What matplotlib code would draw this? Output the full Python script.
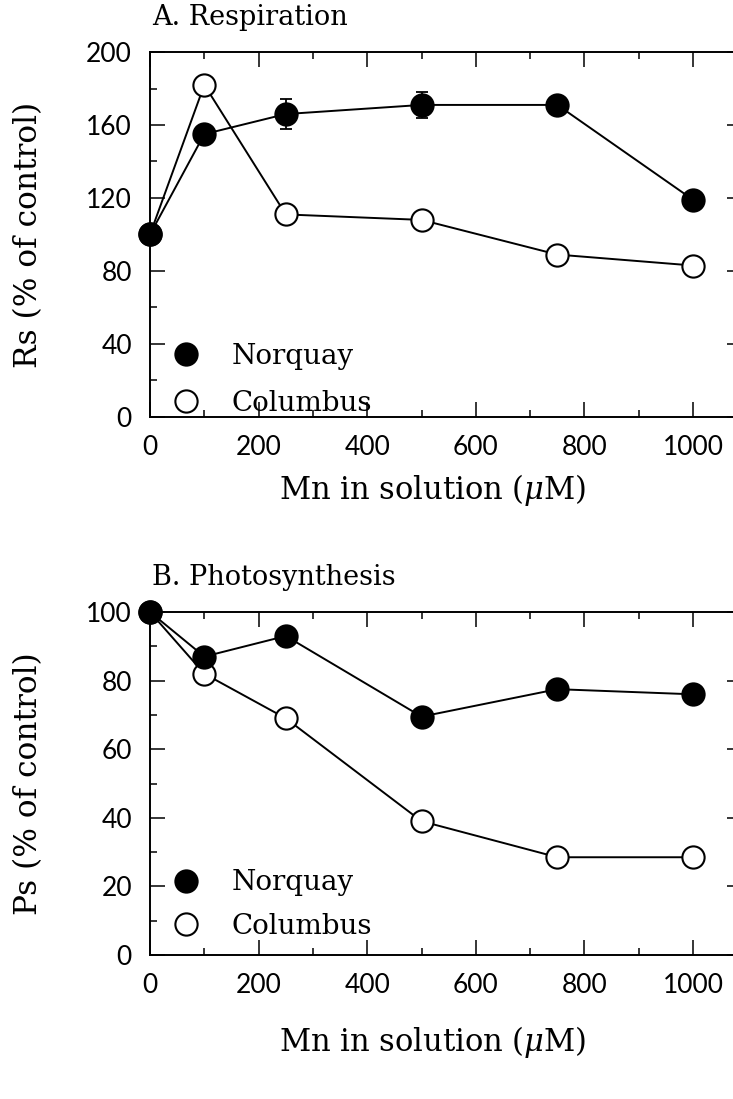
import matplotlib
matplotlib.use("Agg")
import matplotlib.pyplot as plt
from matplotlib.ticker import MultipleLocator
from matplotlib.lines import Line2D

# ---- data ----
mn_conc = [0, 100, 250, 500, 750, 1000]

resp_norquay = [100, 155, 166, 171, 171, 119]
resp_norquay_err = [0, 0, 8, 7, 0, 0]
resp_columbus = [100, 182, 111, 108, 89, 83]

photo_norquay = [100, 87, 93, 69.5, 77.5, 76]
photo_columbus = [100, 82, 69, 39, 28.5, 28.5]

series_names = ["Norquay", "Columbus"]
xticks = [0, 200, 400, 600, 800, 1000]

TEXT_FONT = "DejaVu Serif"
TICK_FONT = "Lato"
plt.rcParams["mathtext.fontset"] = "dejavuserif"

W, H = 733, 1099
XMAX = 1090
fig = plt.figure(figsize=(W / 100, H / 100), dpi=100)


def px_axes(left, top, right, bottom):
    return fig.add_axes([left / W, 1 - bottom / H, (right - left) / W, (bottom - top) / H])


def style_axes(ax, ymax, ymajor, yminor):
    ax.set_xlim(0, XMAX)
    ax.set_ylim(0, ymax)
    ax.xaxis.set_major_locator(MultipleLocator(200))
    ax.xaxis.set_minor_locator(MultipleLocator(100))
    ax.yaxis.set_major_locator(MultipleLocator(ymajor))
    ax.yaxis.set_minor_locator(MultipleLocator(yminor))
    ax.tick_params(which="both", direction="in", top=True, right=True, width=1.1)
    ax.tick_params(which="major", length=10.5)
    ax.tick_params(which="minor", length=5)
    ax.tick_params(axis="x", which="major", pad=13)
    ax.tick_params(axis="y", which="major", pad=13)
    ax.set_xticks(xticks)
    for lab in ax.get_xticklabels() + ax.get_yticklabels():
        lab.set_fontfamily(TICK_FONT)
        lab.set_fontweight("normal")
        lab.set_fontsize(19)
    for sp in ax.spines.values():
        sp.set_linewidth(1.4)


def draw(ax, y1, y2, err=None):
    ax.plot(mn_conc, y2, color="black", lw=1.4, marker="o", ms=16,
            mfc="white", mec="black", mew=1.5, clip_on=False, zorder=3)
    if err is not None:
        ax.errorbar(mn_conc, y1, yerr=err, fmt="none", ecolor="black",
                    elinewidth=1.3, capsize=4, capthick=1.3, clip_on=False, zorder=4)
    ax.plot(mn_conc, y1, color="black", lw=1.4, marker="o", ms=16,
            mfc="black", mec="black", mew=1.5, clip_on=False, zorder=5)


def legend(ax, anchor, spacing):
    handles = [
        Line2D([], [], ls="none", marker="o", ms=16, mfc="black", mec="black", mew=1.5),
        Line2D([], [], ls="none", marker="o", ms=16, mfc="white", mec="black", mew=1.5),
    ]
    ax.legend(handles, series_names, loc="center left", bbox_to_anchor=anchor,
              frameon=False, handletextpad=1.15, labelspacing=spacing,
              handlelength=1.0, borderpad=0, borderaxespad=0,
              prop={"family": TEXT_FONT, "size": 20})


def ylabel(ax, text):
    ax.set_ylabel(text, family=TEXT_FONT, fontsize=22.5)
    bb = ax.get_position()
    ax.yaxis.set_label_coords((44 - bb.x0 * W) / (bb.width * W), 0.5)


def xlabel(ax, top_px):
    ax.set_xlabel("Mn in solution ($\\mu$M)", family=TEXT_FONT, fontsize=22)
    bb = ax.get_position()
    bottom_px = (1 - bb.y0) * H
    ax.xaxis.set_label_coords(520 / XMAX, -(top_px - bottom_px) / (bb.height * H))


# ---- panel A ----
axA = px_axes(150, 52, 742, 417)
style_axes(axA, 200, 40, 20)
draw(axA, resp_norquay, resp_columbus, resp_norquay_err)
legend(axA, (0.037, 0.102), 0.72)
ylabel(axA, "Rs (% of control)")
xlabel(axA, 472)
axA.text(0.003, 1.058, "A. Respiration", transform=axA.transAxes,
         family=TEXT_FONT, fontsize=19.5, ha="left", va="bottom")

# ---- panel B ----
axB = px_axes(150, 612, 742, 955)
style_axes(axB, 100, 20, 10)
draw(axB, photo_norquay, photo_columbus)
legend(axB, (0.037, 0.147), 0.6)
ylabel(axB, "Ps (% of control)")
xlabel(axB, 1024)
axB.text(0.003, 1.062, "B. Photosynthesis", transform=axB.transAxes,
         family=TEXT_FONT, fontsize=19.5, ha="left", va="bottom")

fig.savefig("out.png", dpi=100)
